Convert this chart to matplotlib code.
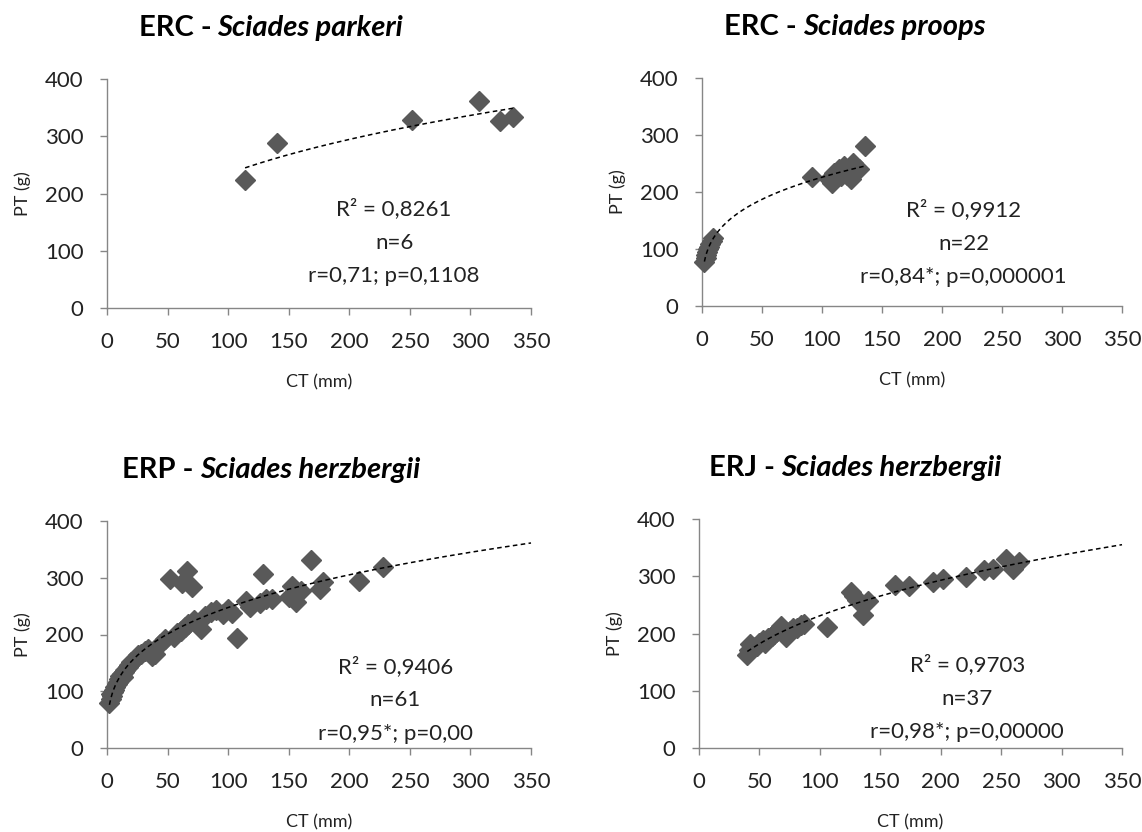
import numpy as np
import matplotlib.pyplot as plt

plt.rcParams['font.family'] = ['Lato', 'DejaVu Sans']

# ERC - Sciades parkeri
parkeri_ct = [114, 140, 252, 307, 324, 335]
parkeri_pt = [224, 288, 328, 362, 326, 333]

# ERC - Sciades proops
proops_ct = [2, 3, 3, 4, 5, 6, 7, 8, 9,
             92, 106, 108, 110, 114, 116, 118, 121, 124, 126, 128, 131, 136]
proops_pt = [78, 84, 90, 95, 100, 104, 108, 114, 120,
             227, 222, 216, 234, 240, 228, 246, 230, 222, 250, 236, 240, 280]

# ERP - Sciades herzbergii
erp_ct = [2, 3, 3, 4, 5, 6, 7, 8, 9, 10, 11, 12, 13, 14, 15, 17, 18, 20, 22, 24,
          26, 28, 31, 34, 37, 40, 44, 48, 52, 55, 58, 61, 62, 64, 66, 67, 70, 72,
          78, 81, 86, 90, 96, 100, 103, 107, 115, 118, 126, 129, 131, 136, 150,
          153, 156, 160, 168, 176, 178, 208, 228]
erp_pt = [80, 86, 95, 92, 98, 103, 108, 112, 117, 121, 126, 130, 125, 134, 138, 143,
          147, 151, 155, 159, 163, 166, 171, 175, 162, 166, 184, 192, 297, 196, 203,
          207, 290, 213, 312, 218, 283, 226, 210, 233, 240, 243, 236, 245, 238, 193,
          259, 249, 255, 306, 262, 262, 266, 285, 258, 276, 332, 280, 292, 294, 319]

# ERJ - Sciades herzbergii
erj_ct = [40, 41, 42, 45, 48, 50, 53, 55, 57, 60, 62, 64, 66, 68, 70, 72, 75, 78,
          81, 84, 87, 106, 126, 128, 131, 136, 140, 162, 174, 194, 202, 221, 236,
          243, 254, 260, 265]
erj_pt = [163, 172, 181, 176, 178, 184, 189, 183, 192, 195, 199, 203, 208, 213,
          200, 194, 205, 210, 209, 214, 216, 211, 273, 266, 259, 232, 256, 285,
          283, 290, 295, 299, 311, 313, 331, 312, 325]

sites = ['ERC', 'ERC', 'ERP', 'ERJ']
species = ['Sciades parkeri', 'Sciades proops', 'Sciades herzbergii', 'Sciades herzbergii']
r2_labels = ['0,8261', '0,9912', '0,9406', '0,9703']
r_labels = ['r=0,71; p=0,1108', 'r=0,84*; p=0,000001', 'r=0,95*; p=0,00',
            'r=0,98*; p=0,00000']

W, H = 1142, 832
fig = plt.figure(figsize=(W / 100, H / 100), dpi=100)
renderer = fig.canvas.get_renderer()

# pixel boxes (left, right, top, bottom) of each plot area
boxes = [(107, 531, 79, 308), (702, 1122, 78, 306),
         (107, 531, 521, 748), (699, 1122, 519, 748)]
title_pos = [(271, 36), (855, 35), (271, 478), (855, 476)]
note_pos = [(237, 115), (218, 110), (238, 85), (222, 87)]
trend_end = [None, None, 350, 350]

data = [(parkeri_ct, parkeri_pt), (proops_ct, proops_pt),
        (erp_ct, erp_pt), (erj_ct, erj_pt)]

for i, (ct, pt) in enumerate(data):
    l, r, t, b = boxes[i]
    ax = fig.add_axes([l / W, 1 - b / H, (r - l) / W, (b - t) / H])
    ct = np.array(ct, dtype=float)
    pt = np.array(pt, dtype=float)

    ax.plot(ct, pt, 'D', color='#595959', ms=10, mec='#595959', clip_on=False, zorder=3)

    # power trendline fitted in log-log space
    slope, inter = np.polyfit(np.log(ct), np.log(pt), 1)
    x_end = trend_end[i] if trend_end[i] else ct.max()
    xs = np.linspace(ct.min(), x_end, 300)
    ax.plot(xs, np.exp(inter) * xs ** slope, color='black', lw=1.1,
            ls=(0, (3, 2.2)), clip_on=False, zorder=4)

    ax.set_xlim(0, 350)
    ax.set_ylim(0, 400)
    ax.set_xticks(range(0, 351, 50))
    ax.set_yticks(range(0, 401, 100))
    for side in ['top', 'right']:
        ax.spines[side].set_visible(False)
    for side in ['left', 'bottom']:
        ax.spines[side].set_color('#868686')
        ax.spines[side].set_linewidth(1.0)
    ax.tick_params(direction='out', length=5, width=1, color='#868686',
                   labelsize=16, labelcolor='#222222', pad=12)
    ax.set_xlabel('CT (mm)', fontsize=13, color='#222222')
    ax.set_ylabel('PT (g)', fontsize=13, color='#222222')
    ax.xaxis.set_label_coords(0.5, -0.29)
    ax.yaxis.set_label_coords(-0.18, 0.5)

    nx, ny = note_pos[i]
    ax.text(nx, ny, 'R² = ' + r2_labels[i] + '\nn=' + str(len(ct)) + '\n' + r_labels[i],
            ha='center', va='center', fontsize=16, color='#222222', linespacing=1.85)

    # title: site in bold, species in bold italic, centred as a whole
    cx, cy = title_pos[i]
    t1 = fig.text(0, 1 - cy / H, sites[i] + ' -', fontsize=21, fontweight='bold',
                  va='baseline')
    t2 = fig.text(0, 1 - cy / H, species[i], fontsize=21, fontweight='bold',
                  style='italic', va='baseline')
    w1 = t1.get_window_extent(renderer).width
    w2 = t2.get_window_extent(renderer).width
    gap = 6
    x0 = cx - (w1 + gap + w2) / 2
    t1.set_x(x0 / W)
    t2.set_x((x0 + w1 + gap) / W)

fig.savefig('out.png', dpi=100)
